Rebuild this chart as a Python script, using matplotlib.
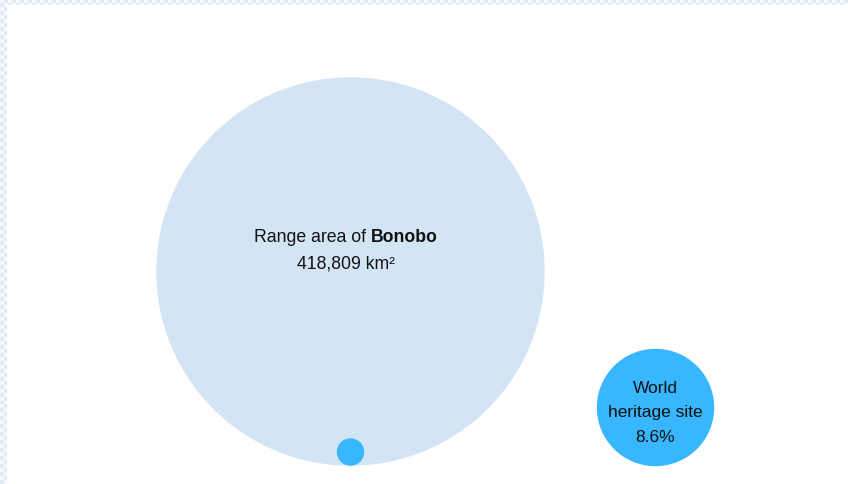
import matplotlib
matplotlib.use("Agg")
from matplotlib import pyplot as plt
from matplotlib.patches import Circle, Rectangle
import numpy as np

plt.rcParams['font.family'] = ['Liberation Sans', 'DejaVu Sans']

species = "Bonobo"
range_area = 418809          # km²
heritage_share = 8.6         # %

W, H = 848, 485
fig = plt.figure(figsize=(W / 100, H / 100), dpi=100)

# checkered frame in the background
bg = fig.add_axes([0, 0, 1, 1])
yy, xx = np.mgrid[0:H:4, 0:W:4]
checker = ((xx // 4 + yy // 4) % 2).astype(float)
bg.imshow(checker, extent=[0, W, H, 0], cmap=matplotlib.colors.ListedColormap(["#f6f8fc", "#e2e9f4"]),
          interpolation="nearest", aspect="auto")
bg.set_xlim(0, W)
bg.set_ylim(H, 0)
bg.axis("off")

ax = fig.add_axes([0, 0, 1, 1])
ax.set_xlim(0, W)
ax.set_ylim(H, 0)
ax.axis("off")
ax.add_patch(Rectangle((7, 6), W, H, color="white", zorder=0))

big = "#d3e5f4"
blue = "#38b6ff"
ax.add_patch(Circle((350.5, 272.5), 193.5, color=big, zorder=1))
ax.add_patch(Circle((350.5, 453), 13, color=blue, zorder=2))
ax.add_patch(Circle((655.5, 408.5), 58, color=blue, zorder=2))

# first line: normal + bold part, centred together
fig.canvas.draw()
r = fig.canvas.get_renderer()
cx = 346
t1 = ax.text(0, 238, "Range area of ", fontsize=12.7, ha="left", va="center", color="#111111", zorder=3)
t2 = ax.text(0, 238, species, fontsize=12.7, fontweight="bold", ha="left", va="center", color="#111111", zorder=3)
w1 = t1.get_window_extent(r).width
w2 = t2.get_window_extent(r).width
x0 = cx - (w1 + w2) / 2
t1.set_x(x0)
t2.set_x(x0 + w1)
ax.text(cx, 264.5, f"{range_area:,} km²", fontsize=12.7, ha="center", va="center", color="#111111", zorder=3)

ax.text(655.5, 389, "World", fontsize=12.5, ha="center", va="center", color="#111111", zorder=3)
ax.text(655.5, 413, "heritage site", fontsize=12.5, ha="center", va="center", color="#111111", zorder=3)
ax.text(655.5, 438, f"{heritage_share}%", fontsize=12.5, ha="center", va="center", color="#111111", zorder=3)

fig.savefig("out.png", dpi=100)
